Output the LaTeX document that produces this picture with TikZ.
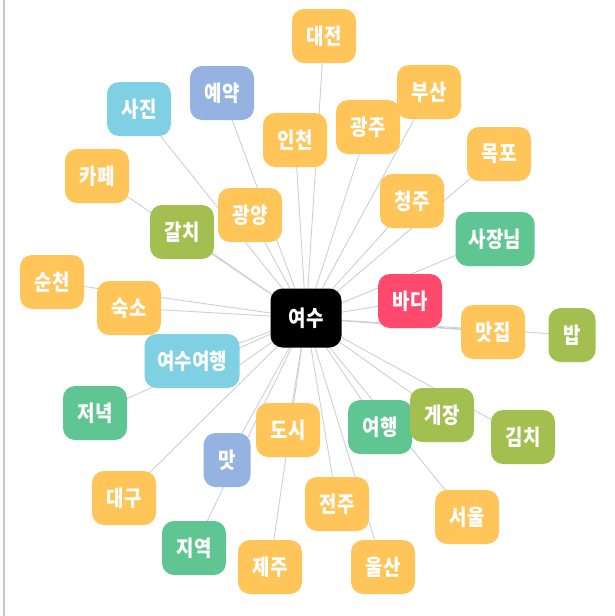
\documentclass[tikz,border=0pt]{standalone}
\usepackage{fontspec}
\newfontfamily\kr[FakeStretch=0.86]{Noto Sans CJK KR}
\usetikzlibrary{backgrounds}
\definecolor{corange}{HTML}{FFC559}
\definecolor{cblue}{HTML}{95B3E0}
\definecolor{clblue}{HTML}{7ED0E2}
\definecolor{cgreen}{HTML}{5FC693}
\definecolor{colive}{HTML}{A3BF4F}
\definecolor{cred}{HTML}{FF4A6E}
\definecolor{cedge}{HTML}{CDCFDA}
\definecolor{cframe}{HTML}{C8C8C8}
\tikzset{
  word/.style={rounded corners=12pt, minimum width=64pt, minimum height=54pt, inner sep=0pt,
    text=white, font=\kr\bfseries\fontsize{22}{22}\selectfont, fill=corange},
  orng/.style={word, fill=corange},
  blu/.style={word, fill=cblue},
  lblu/.style={word, fill=clblue},
  grn/.style={word, fill=cgreen},
  olv/.style={word, fill=colive},
  rd/.style={word, fill=cred},
  hub/.style={word, fill=black, minimum width=71pt, minimum height=59pt},
  narrow/.style={minimum width=47pt},
  link/.style={draw=cedge, line width=0.9pt}
}
\begin{document}
\begin{tikzpicture}[x=1pt,y=-1pt]
\useasboundingbox (0,0) rectangle (615,616);
\draw[cframe, line width=2pt] (3.5,0) -- (3.5,616);

\node[hub] (c) at (306,318) {여수};
\node[orng] (daejeon) at (324,36) {대전};
\node[blu] (yeyak) at (222,93) {예약};
\node[lblu] (sajin) at (139,109) {사진};
\node[orng] (incheon) at (295,140) {인천};
\node[orng] (busan) at (429,92) {부산};
\node[orng] (gwangju) at (368,127) {광주};
\node[orng] (mokpo) at (499,154) {목포};
\node[orng] (cafe) at (97,176) {카페};
\node[orng] (cheongju) at (412,201) {청주};
\node[orng] (gwangyang) at (250,215) {광양};
\node[olv] (galchi) at (182,232) {갈치};
\node[grn, minimum width=79pt] (sajang) at (495,239) {사장님};
\node[orng] (suncheon) at (52,282) {순천};
\node[orng] (sukso) at (129,308) {숙소};
\node[rd] (bada) at (410,301) {바다};
\node[orng] (matjip) at (493,332) {맛집};
\node[olv, narrow] (bap) at (572,335) {밥};
\node[lblu, minimum width=95pt] (ysyh) at (192,361) {여수여행};
\node[grn] (jeonyeok) at (95,413) {저녁};
\node[orng] (dosi) at (288,430) {도시};
\node[blu, narrow] (mat) at (227,460) {맛};
\node[grn] (yeohaeng) at (380,427) {여행};
\node[olv] (gejang) at (442,415) {게장};
\node[olv] (kimchi) at (523,437) {김치};
\node[orng] (daegu) at (124,498) {대구};
\node[orng] (jeonju) at (337,504) {전주};
\node[orng] (seoul) at (467,517) {서울};
\node[grn] (jiyeok) at (194,548) {지역};
\node[orng] (jeju) at (270,567) {제주};
\node[orng] (ulsan) at (383,567) {울산};

\begin{scope}[on background layer]
\foreach \n in {daejeon,yeyak,sajin,incheon,busan,gwangju,mokpo,cafe,cheongju,gwangyang,galchi,sajang,suncheon,sukso,bada,matjip,bap,ysyh,jeonyeok,dosi,mat,yeohaeng,gejang,kimchi,daegu,jeonju,seoul,jiyeok,jeju,ulsan}
  \draw[link] (c.center) -- (\n.center);
\draw[link] (c.center) -- ([yshift=-4pt]ysyh.east);
\draw[link] (c.center) -- ([yshift=3pt]matjip.west);
\end{scope}
\end{tikzpicture}
\end{document}
